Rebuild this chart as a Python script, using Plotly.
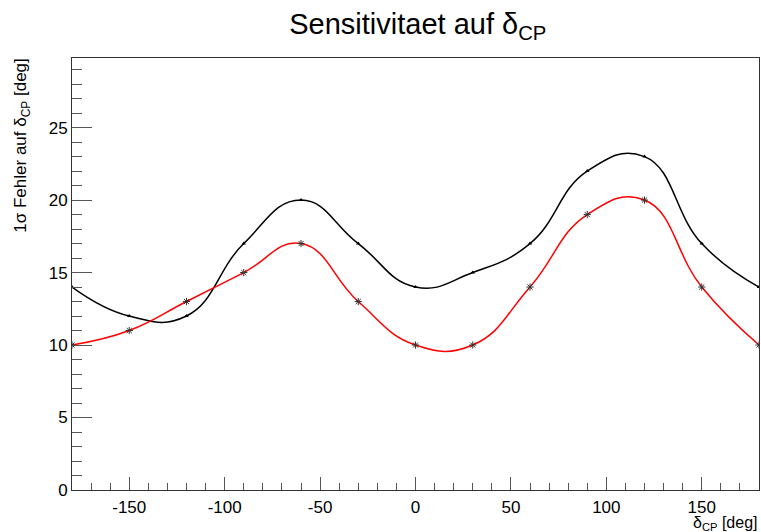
import plotly.graph_objects as go

delta_cp = [-180, -150, -120, -90, -60, -30, 0, 30, 60, 90, 120, 150, 180]
err_black = [14, 12, 12, 17, 20, 17, 14, 15, 17, 22, 23, 17, 14]
err_red = [10, 11, 13, 15, 17, 13, 10, 10, 14, 19, 20, 14, 10]

x_tickvals = [-150, -100, -50, 0, 50, 100, 150]
x_ticktext = ["-150", "-100", "-50", "0", "50", "100", "150"]

FONT = "Liberation Sans, Arial, Helvetica, sans-serif"

fig = go.Figure()
fig.add_trace(go.Scatter(
    x=delta_cp, y=err_black, mode="lines+markers",
    line=dict(color="black", width=1.5, shape="spline", smoothing=1.3),
    marker=dict(symbol="triangle-up", size=4, color="black"),
    showlegend=False))
fig.add_trace(go.Scatter(
    x=delta_cp, y=err_red, mode="lines+markers",
    line=dict(color="#ff0000", width=1.5, shape="spline", smoothing=1.3),
    marker=dict(symbol="asterisk-open", size=6, color="#333333", line=dict(width=1, color="#333333")),
    showlegend=False))

axis_common = dict(
    showline=True, linecolor="#333333", linewidth=1, mirror=True,
    showgrid=False, zeroline=False, ticks="inside", tickcolor="#555555",
    tickfont=dict(family=FONT, size=17, color="black"),
)

fig.update_layout(
    width=761, height=532,
    margin=dict(l=72, r=2, t=58, b=42),
    paper_bgcolor="white", plot_bgcolor="white",
    title=dict(text="Sensitivitaet auf δ<sub>CP</sub>", x=0.549, xanchor="center",
               y=0.955, yanchor="middle",
               font=dict(family=FONT, size=29, color="black")),
    xaxis=dict(range=[-180, 180], tickmode="array", tickvals=x_tickvals, ticktext=x_ticktext,
               ticklen=13, ticklabelstandoff=2,
               minor=dict(ticks="inside", ticklen=7, dtick=10, tick0=0, tickcolor="#555555"),
               **axis_common),
    yaxis=dict(range=[0, 29.8], tickmode="linear", tick0=0, dtick=5,
               ticklen=20,
               minor=dict(ticks="inside", ticklen=10, dtick=1, tick0=0, tickcolor="#555555"),
               **axis_common),
    annotations=[
        dict(text="δ<sub>CP</sub> [deg]", xref="paper", yref="paper", x=1, y=0,
             xanchor="right", yanchor="top", yshift=-22, showarrow=False,
             font=dict(family=FONT, size=16, color="black")),
        dict(text="1σ Fehler auf δ<sub>CP</sub> [deg]", xref="paper", yref="paper",
             x=0, y=0.797, xanchor="center", yanchor="middle", xshift=-50,
             textangle=-90, showarrow=False,
             font=dict(family=FONT, size=17, color="black")),
    ],
)

fig.write_html("out.html")
